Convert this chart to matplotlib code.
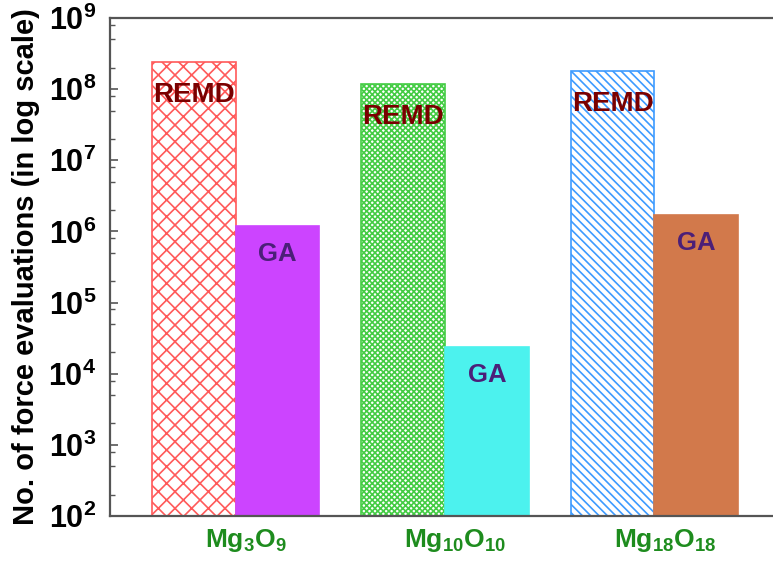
import matplotlib
matplotlib.use("Agg")
import matplotlib.pyplot as plt
from matplotlib.ticker import FixedLocator, FuncFormatter
import numpy as np

plt.rcParams["font.family"] = ["Liberation Sans", "DejaVu Sans"]
plt.rcParams["font.weight"] = "bold"
plt.rcParams["mathtext.fontset"] = "custom"
plt.rcParams["mathtext.rm"] = "Liberation Sans:bold"
plt.rcParams["mathtext.bf"] = "Liberation Sans:bold"
plt.rcParams["mathtext.it"] = "Liberation Sans:bold"
plt.rcParams["hatch.linewidth"] = 1.2

# numero de evaluaciones de fuerza por sistema
sistemas = [r"$\mathbf{Mg_3O_9}$", r"$\mathbf{Mg_{10}O_{10}}$", r"$\mathbf{Mg_{18}O_{18}}$"]
remd = [2.4e8, 1.18e8, 1.8e8]
ga = [1.19e6, 2.37e4, 1.7e6]

remd_bordes = ["#ff5a5a", "#44cc44", "#3d9bff"]
remd_tramas = ["xx", "xxxxxx", "\\\\\\\\"]
ga_colores = ["#cc44ff", "#4cf2ee", "#d2794b"]

fig = plt.figure(figsize=(7.73, 5.63), dpi=100)
ax = fig.add_axes([0.1423, 0.0835, 0.8667, 0.8845])

x = np.arange(len(sistemas))
ancho = 0.4

for i in range(len(sistemas)):
    ax.bar(x[i] - ancho / 2, remd[i], width=ancho, bottom=1e2,
           facecolor="white", edgecolor=remd_bordes[i], hatch=remd_tramas[i],
           linewidth=1.2)
    ax.bar(x[i] + ancho / 2, ga[i], width=ancho, bottom=1e2,
           facecolor=ga_colores[i], edgecolor=ga_colores[i], linewidth=1.2)
    ax.annotate("REMD", (x[i] - ancho / 2, remd[i]), xytext=(0, -24),
                textcoords="offset points", ha="center", va="center",
                fontsize=20, fontweight="bold", color="#7a0000")
    ax.annotate("GA", (x[i] + ancho / 2, ga[i]), xytext=(0, -20),
                textcoords="offset points", ha="center", va="center",
                fontsize=18.5, fontweight="bold", color="#4b1f78")

ax.set_yscale("log")
ax.set_ylim(1e2, 1e9)
ax.set_xlim(-0.6, 2.6)

ax.yaxis.set_major_locator(FixedLocator([10.0 ** k for k in range(2, 10)]))
ax.yaxis.set_minor_locator(FixedLocator([m * 10.0 ** k for k in range(2, 9) for m in (2, 5, 8)]))
ax.yaxis.set_major_formatter(FuncFormatter(lambda v, p: r"$\mathbf{10^{%d}}$" % round(np.log10(v))))
ax.tick_params(axis="y", which="major", direction="in", length=6, width=1.2,
               labelsize=22, pad=10, color="#555555")
ax.tick_params(axis="y", which="minor", direction="in", length=3.5, width=1,
               color="#555555")

ax.set_xticks(x + 0.05)
ax.set_xticklabels(sistemas, fontsize=19, color="#1e8c1e")
ax.tick_params(axis="x", length=0, pad=8)

for lado in ["left", "bottom", "top"]:
    ax.spines[lado].set_color("#555555")
    ax.spines[lado].set_linewidth(1.6)
ax.spines["right"].set_visible(False)

ax.set_ylabel("No. of force evaluations (in log scale)", fontsize=21,
              fontweight="bold", labelpad=6)

fig.savefig("out.png", dpi=100)
